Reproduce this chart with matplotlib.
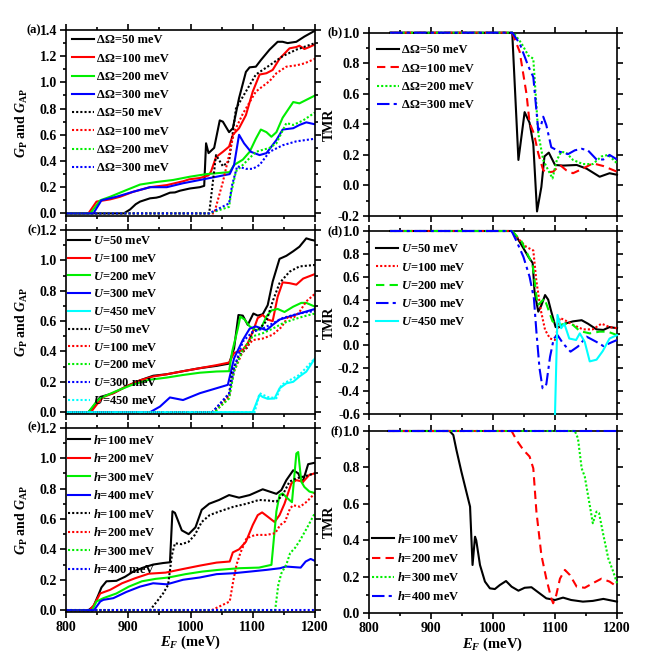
import matplotlib
matplotlib.use("Agg")
import matplotlib.pyplot as plt
from matplotlib.ticker import MultipleLocator, FormatStrFormatter

plt.rcParams["font.family"] = ["Liberation Serif", "DejaVu Serif"]
plt.rcParams["font.weight"] = "bold"
plt.rcParams["mathtext.fontset"] = "custom"
plt.rcParams["mathtext.rm"] = "Liberation Serif:bold"
plt.rcParams["mathtext.it"] = "Liberation Serif:italic:bold"
plt.rcParams["mathtext.bf"] = "Liberation Serif:bold"

# ---------------- panel (a): G_P (solid) and G_AP (dotted) vs E_F, dOmega series
A_GP50_E = [800, 893, 903, 912, 919, 935, 945, 951, 967, 975, 983, 999, 1015, 1022, 1025, 1029, 1038,
            1047, 1052, 1062, 1068, 1078, 1089, 1095, 1105, 1113, 1127, 1140, 1148, 1156, 1170, 1183, 1200]
A_GP50 = [0, 0, 0.03, 0.07, 0.09, 0.115, 0.12, 0.127, 0.158, 0.16, 0.173, 0.19, 0.20, 0.21, 0.535, 0.46, 0.50,
          0.71, 0.70, 0.62, 0.65, 0.88, 1.08, 1.115, 1.12, 1.17, 1.25, 1.31, 1.31, 1.30, 1.31, 1.35, 1.395]
A_GP100_E = [800, 836, 849, 871, 887, 908, 935, 962, 988, 998, 1015, 1029, 1033, 1041, 1052, 1062, 1068,
             1078, 1089, 1100, 1111, 1122, 1132, 1143, 1159, 1170, 1175, 1183, 1191, 1200]
A_GP100 = [0, 0, 0.09, 0.107, 0.127, 0.165, 0.20, 0.216, 0.245, 0.26, 0.27, 0.29, 0.32, 0.43, 0.47, 0.51, 0.60,
           0.65, 0.75, 0.93, 1.06, 1.07, 1.095, 1.18, 1.26, 1.27, 1.28, 1.255, 1.27, 1.29]
A_GP200_E = [800, 839, 855, 871, 897, 919, 946, 972, 999, 1026, 1063, 1070, 1084, 1095, 1105, 1113, 1122,
             1130, 1138, 1148, 1165, 1175, 1200]
A_GP200 = [0, 0, 0.10, 0.127, 0.178, 0.22, 0.24, 0.255, 0.28, 0.30, 0.315, 0.37, 0.41, 0.47, 0.57, 0.64, 0.62,
           0.585, 0.62, 0.73, 0.85, 0.84, 0.90]
A_GP300_E = [800, 844, 857, 881, 908, 935, 962, 988, 1015, 1042, 1063, 1070, 1078, 1086, 1097, 1111, 1122,
             1138, 1148, 1165, 1175, 1186, 1200]
A_GP300 = [0, 0, 0.10, 0.127, 0.165, 0.20, 0.20, 0.23, 0.255, 0.28, 0.30, 0.37, 0.60, 0.535, 0.47, 0.445, 0.46,
           0.56, 0.64, 0.65, 0.675, 0.695, 0.68]
A_GAP50_E = [800, 1030, 1041, 1052, 1062, 1073, 1084, 1105, 1127, 1148, 1170, 1200]
A_GAP50 = [0, 0, 0.445, 0.36, 0.40, 0.80, 0.89, 1.06, 1.13, 1.20, 1.25, 1.30]
A_GAP100_E = [800, 1038, 1052, 1062, 1070, 1084, 1105, 1127, 1138, 1154, 1170, 1183, 1200]
A_GAP100 = [0, 0, 0.24, 0.445, 0.62, 0.76, 0.93, 1.01, 1.07, 1.12, 1.13, 1.145, 1.18]
A_GAP200_E = [800, 1030, 1062, 1065, 1073, 1084, 1105, 1127, 1138, 1154, 1165, 1181, 1200]
A_GAP200 = [0, 0, 0.05, 0.15, 0.32, 0.37, 0.47, 0.50, 0.535, 0.69, 0.675, 0.71, 0.77]
A_GAP300_E = [800, 1030, 1062, 1067, 1075, 1089, 1100, 1111, 1127, 1148, 1170, 1200]
A_GAP300 = [0, 0, 0.076, 0.22, 0.36, 0.34, 0.34, 0.37, 0.47, 0.52, 0.55, 0.57]

# ---------------- panel (b): TMR, dOmega series
B_50_E = [834, 1031, 1041, 1051, 1059, 1065, 1071, 1078, 1083, 1090, 1100, 1113, 1135, 1151, 1172, 1188, 1200]
B_50 = [1, 1, 0.167, 0.48, 0.41, 0.27, -0.17, -0.01, 0.19, 0.215, 0.134, 0.13, 0.134, 0.11, 0.057, 0.08, 0.07]
B_100_E = [834, 1031, 1043, 1054, 1059, 1066, 1073, 1081, 1086, 1097, 1108, 1118, 1129, 1145, 1161, 1178, 1200]
B_100 = [1, 1, 0.876, 0.60, 0.41, 0.34, 0.21, 0.10, 0.085, 0.09, 0.134, 0.10, 0.08, 0.11, 0.145, 0.127, 0.09]
B_200_E = [834, 1033, 1046, 1057, 1065, 1073, 1081, 1089, 1096, 1103, 1110, 1118, 1129, 1145, 1161, 1175,
           1186, 1200]
B_200 = [1, 1, 0.93, 0.85, 0.83, 0.34, 0.167, 0.10, 0.046, 0.167, 0.22, 0.215, 0.167, 0.14, 0.14, 0.19, 0.20,
         0.145]
B_300_E = [834, 1031, 1043, 1057, 1065, 1073, 1077, 1081, 1086, 1094, 1108, 1121, 1132, 1143, 1153, 1167,
           1178, 1188, 1200]
B_300 = [1, 1, 0.93, 0.78, 0.71, 0.36, 0.385, 0.45, 0.395, 0.25, 0.22, 0.205, 0.23, 0.24, 0.23, 0.17, 0.17,
         0.20, 0.17]

# ---------------- panel (c): G_P / G_AP, U series
C_GP50_E = [800, 836, 844, 855, 876, 897, 919, 940, 962, 988, 1015, 1042, 1062, 1070, 1077, 1084, 1092, 1101,
            1108, 1116, 1124, 1132, 1143, 1154, 1165, 1175, 1186, 1194, 1200]
C_GP50 = [0, 0, 0.037, 0.10, 0.125, 0.17, 0.21, 0.24, 0.25, 0.27, 0.29, 0.305, 0.32, 0.42, 0.64, 0.636, 0.575,
          0.65, 0.636, 0.645, 0.705, 0.86, 1.01, 1.03, 1.06, 1.09, 1.145, 1.135, 1.13]
C_GP100_E = [800, 840, 849, 860, 876, 897, 919, 940, 962, 988, 1015, 1042, 1062, 1070, 1084, 1092, 1100, 1108,
             1116, 1124, 1132, 1140, 1148, 1159, 1170, 1181, 1200]
C_GP100 = [0, 0, 0.048, 0.10, 0.125, 0.17, 0.21, 0.235, 0.25, 0.27, 0.29, 0.31, 0.327, 0.39, 0.41, 0.455, 0.53,
           0.62, 0.64, 0.61, 0.60, 0.76, 0.855, 0.85, 0.84, 0.88, 0.91]
C_GP200_E = [800, 836, 849, 855, 879, 906, 933, 962, 988, 1015, 1042, 1062, 1067, 1076, 1080, 1087, 1095, 1105,
             1113, 1122, 1130, 1140, 1151, 1165, 1178, 1186, 1200]
C_GP200 = [0, 0, 0.07, 0.092, 0.136, 0.18, 0.213, 0.228, 0.245, 0.26, 0.268, 0.27, 0.40, 0.55, 0.63, 0.61,
           0.565, 0.54, 0.55, 0.63, 0.67, 0.68, 0.66, 0.695, 0.72, 0.72, 0.695]
C_GP300_E = [800, 935, 951, 967, 988, 1015, 1042, 1060, 1070, 1084, 1095, 1105, 1122, 1132, 1143, 1159, 1175,
             1200]
C_GP300 = [0, 0, 0.037, 0.097, 0.08, 0.125, 0.158, 0.18, 0.355, 0.475, 0.55, 0.565, 0.54, 0.575, 0.61, 0.63,
           0.65, 0.68]
C_GP450_E = [800, 1100, 1111, 1116, 1124, 1135, 1143, 1154, 1165, 1175, 1186, 1200]
C_GP450 = [0, 0, 0.114, 0.10, 0.088, 0.09, 0.157, 0.19, 0.20, 0.235, 0.267, 0.355]
C_GAP50_E = [800, 1035, 1052, 1062, 1067, 1078, 1092, 1100, 1111, 1122, 1132, 1143, 1159, 1175, 1200]
C_GAP50 = [0, 0, 0.07, 0.114, 0.27, 0.37, 0.43, 0.53, 0.55, 0.60, 0.73, 0.85, 0.925, 0.96, 0.97]
C_GAP100_E = [800, 1038, 1062, 1070, 1084, 1100, 1116, 1132, 1146, 1157, 1165, 1175, 1186, 1200]
C_GAP100 = [0, 0, 0.10, 0.27, 0.40, 0.475, 0.485, 0.51, 0.56, 0.63, 0.62, 0.66, 0.73, 0.78]
C_GAP200_E = [800, 1038, 1062, 1070, 1084, 1100, 1116, 1132, 1148, 1165, 1181, 1200]
C_GAP200 = [0, 0, 0.09, 0.27, 0.41, 0.50, 0.52, 0.55, 0.585, 0.61, 0.63, 0.65]
C_GAP300_E = [800, 1035, 1062, 1070, 1084, 1100, 1116, 1132, 1148, 1165, 1181, 1200]
C_GAP300 = [0, 0, 0.125, 0.29, 0.465, 0.53, 0.55, 0.585, 0.62, 0.64, 0.655, 0.667]
C_GAP450_E = [800, 1103, 1111, 1124, 1138, 1146, 1159, 1175, 1200]
C_GAP450 = [0, 0, 0.125, 0.10, 0.092, 0.18, 0.21, 0.246, 0.355]

# ---------------- panel (d): TMR, U series
D_50_E = [834, 1030, 1038, 1049, 1057, 1064, 1067, 1073, 1078, 1084, 1089, 1094, 1101, 1108, 1116, 1129, 1143,
          1153, 1167, 1178, 1188, 1200]
D_50 = [1, 1, 0.95, 0.85, 0.775, 0.72, 0.47, 0.295, 0.35, 0.44, 0.40, 0.295, 0.16, 0.16, 0.19, 0.21, 0.22,
        0.19, 0.14, 0.135, 0.16, 0.15]
D_100_E = [834, 1031, 1043, 1054, 1065, 1070, 1077, 1084, 1092, 1100, 1108, 1116, 1129, 1145, 1161, 1175,
           1188, 1200]
D_100 = [1, 1, 0.92, 0.86, 0.83, 0.56, 0.31, 0.135, 0.06, 0.047, 0.24, 0.22, 0.18, 0.14, 0.14, 0.19, 0.16, 0.15]
D_200_E = [834, 1031, 1046, 1059, 1064, 1072, 1083, 1096, 1107, 1118, 1129, 1140, 1156, 1172, 1185, 1200]
D_200 = [1, 1, 0.91, 0.76, 0.70, 0.35, 0.41, 0.21, 0.178, 0.19, 0.178, 0.125, 0.105, 0.12, 0.12, 0.09]
D_300_E = [834, 1030, 1038, 1049, 1059, 1066, 1070, 1075, 1080, 1086, 1092, 1098, 1104, 1113, 1125, 1137,
           1151, 1167, 1178, 1191, 1200]
D_300 = [1, 1, 0.91, 0.775, 0.60, 0.41, 0.12, -0.20, -0.375, -0.34, -0.10, 0.06, 0.09, 0.017, -0.055, -0.01,
         0.076, 0.03, -0.006, 0.026, 0.047]
D_450_E = [1100, 1104, 1110, 1115, 1123, 1134, 1140, 1148, 1156, 1167, 1177, 1188, 1200]
D_450 = [-0.6, 0.266, 0.15, 0.19, 0.06, 0.047, 0.105, 0.03, -0.14, -0.125, -0.05, 0.06, 0.09]

# ---------------- panel (e): G_P / G_AP, h series
E_GP100_E = [800, 836, 844, 852, 857, 865, 881, 895, 908, 924, 940, 956, 967, 971, 975, 986, 997, 1008, 1018,
             1030, 1046, 1062, 1078, 1095, 1116, 1127, 1138, 1146, 1154, 1165, 1173, 1180, 1189, 1200]
E_GP100 = [0, 0, 0.024, 0.10, 0.15, 0.19, 0.193, 0.22, 0.254, 0.28, 0.30, 0.31, 0.315, 0.65, 0.64, 0.525, 0.50,
           0.545, 0.66, 0.70, 0.725, 0.757, 0.74, 0.757, 0.795, 0.78, 0.765, 0.79, 0.855, 0.92, 0.90, 0.84,
           0.96, 0.97]
E_GP200_E = [800, 838, 845, 855, 871, 890, 911, 933, 960, 987, 1015, 1042, 1063, 1068, 1078, 1089, 1100, 1108,
             1115, 1124, 1135, 1143, 1151, 1162, 1170, 1181, 1191, 1200]
E_GP200 = [0, 0, 0.035, 0.11, 0.134, 0.177, 0.21, 0.24, 0.247, 0.27, 0.293, 0.313, 0.32, 0.38, 0.40, 0.45,
           0.56, 0.625, 0.643, 0.615, 0.58, 0.625, 0.70, 0.834, 0.855, 0.845, 0.89, 0.90]
E_GP300_E = [800, 842, 849, 860, 881, 901, 922, 944, 965, 992, 1019, 1045, 1078, 1110, 1130, 1132, 1138, 1143,
             1148, 1156, 1163, 1166, 1170, 1173, 1178, 1183, 1191, 1200]
E_GP300 = [0, 0, 0.057, 0.079, 0.11, 0.155, 0.19, 0.206, 0.215, 0.237, 0.254, 0.265, 0.276, 0.28, 0.298,
           0.385, 0.65, 0.757, 0.768, 0.735, 0.71, 0.845, 1.03, 1.04, 0.845, 0.81, 0.78, 0.77]
E_GP400_E = [800, 845, 855, 860, 876, 897, 919, 940, 962, 988, 1015, 1042, 1069, 1096, 1122, 1144, 1153, 1177,
             1185, 1193, 1200]
E_GP400 = [0, 0, 0.057, 0.068, 0.079, 0.12, 0.155, 0.177, 0.17, 0.20, 0.215, 0.237, 0.243, 0.254, 0.265,
           0.276, 0.287, 0.28, 0.32, 0.337, 0.324]
E_GAP100_E = [800, 935, 946, 956, 964, 970, 975, 986, 997, 1007, 1018, 1031, 1047, 1069, 1090, 1110, 1128,
              1138, 1148, 1159, 1170, 1181, 1191, 1200]
E_GAP100 = [0, 0, 0.057, 0.11, 0.166, 0.36, 0.44, 0.434, 0.45, 0.495, 0.58, 0.626, 0.65, 0.68, 0.70, 0.725,
            0.72, 0.714, 0.757, 0.845, 0.867, 0.878, 0.89, 0.90]
E_GAP200_E = [800, 1034, 1063, 1069, 1074, 1080, 1090, 1104, 1122, 1136, 1144, 1152, 1160, 1165, 1176, 1187,
              1200]
E_GAP200 = [0, 0, 0.057, 0.20, 0.30, 0.375, 0.473, 0.495, 0.495, 0.506, 0.56, 0.583, 0.67, 0.69, 0.68, 0.714,
            0.77]
E_GAP300_E = [800, 1136, 1141, 1146, 1154, 1160, 1168, 1176, 1187, 1200]
E_GAP300 = [0, 0, 0.166, 0.243, 0.30, 0.375, 0.41, 0.46, 0.54, 0.64]
E_GAP400_E = [800, 1200]
E_GAP400 = [0, 0]

# ---------------- panel (f): TMR, h series
F_100_E = [831, 930, 936, 941, 949, 957, 963, 967, 971, 973, 979, 987, 995, 1003, 1011, 1021, 1030, 1041, 1051,
           1062, 1073, 1086, 1100, 1113, 1126, 1145, 1161, 1178, 1200]
F_100 = [1, 1, 0.978, 0.896, 0.777, 0.667, 0.585, 0.265, 0.42, 0.40, 0.265, 0.174, 0.137, 0.133, 0.155, 0.177,
         0.146, 0.124, 0.14, 0.143, 0.115, 0.082, 0.073, 0.086, 0.073, 0.064, 0.068, 0.079, 0.064]
F_200_E = [831, 1030, 1038, 1049, 1059, 1065, 1070, 1078, 1086, 1094, 1097, 1102, 1108, 1116, 1124, 1135, 1148,
           1161, 1175, 1188, 1200]
F_200 = [1, 1, 0.95, 0.896, 0.86, 0.795, 0.558, 0.32, 0.19, 0.082, 0.055, 0.10, 0.19, 0.238, 0.21, 0.146, 0.14,
         0.165, 0.19, 0.174, 0.146]
F_300_E = [831, 1132, 1137, 1143, 1148, 1156, 1161, 1167, 1171, 1178, 1186, 1194, 1200]
F_300 = [1, 1, 0.96, 0.795, 0.75, 0.594, 0.494, 0.558, 0.55, 0.43, 0.30, 0.228, 0.165]
F_400_E = [831, 1200]
F_400 = [1, 1]

BLACK, RED, GREEN, BLUE, CYAN = "#000000", "#ff0000", "#00ee00", "#0000ff", "#00ffff"
DOT = (0, (1, 1))
DASH = (0, (4, 2.5))
DASHDOT = (0, (6, 2, 1.5, 2))
LW = 1.5
FS = 9
TICK_FS = 10

W, H = 669, 657
fig = plt.figure(figsize=(W / 100, H / 100), dpi=100)


def add_ax(left, right, top, bottom):
    return fig.add_axes([left / W, 1 - bottom / H, (right - left) / W, (bottom - top) / H])


def style(ax, ylim, xlabels=False, ylabel=None, ylab_x=-0.145):
    ax.set_xlim(800, 1200)
    ax.set_ylim(*ylim)
    ax.xaxis.set_major_locator(MultipleLocator(100))
    ax.xaxis.set_minor_locator(MultipleLocator(50))
    ax.yaxis.set_major_locator(MultipleLocator(0.2))
    ax.yaxis.set_minor_locator(MultipleLocator(0.1))
    ax.tick_params(which="both", direction="out", top=True, right=True, width=1.2,
                   labelsize=TICK_FS, pad=2)
    ax.tick_params(which="major", length=4.5)
    ax.tick_params(which="minor", length=2.5)
    ax.tick_params(axis="x", labelbottom=xlabels)
    ax.yaxis.set_major_formatter(FormatStrFormatter("%.1f"))
    for s in ax.spines.values():
        s.set_linewidth(1.2)
    if ylabel:
        ax.set_ylabel(ylabel, fontsize=FS + 1, fontweight="bold")
        ax.yaxis.set_label_coords(ylab_x, 0.5)
    if xlabels:
        ax.set_xlabel(r"$E_F$ (meV)", fontsize=FS + 1.5, fontweight="bold")
        ax.xaxis.set_label_coords(0.5, -0.122)


def legend(ax, loc, anchor, spacing=0.5):
    ax.legend(loc=loc, bbox_to_anchor=anchor, frameon=False, fontsize=FS, handlelength=1.75,
              handletextpad=0.25, labelspacing=spacing, borderpad=0, borderaxespad=0)


def tmr(ax, e, v, color, ls, label):
    # flat TMR = 1 segments sit on the top frame, so let them draw over it
    ax.plot(e, v, color=color, lw=LW, ls=ls, label=label, clip_on=False, zorder=3)


GLAB = r"$G_{\rm P}$ and $G_{\rm AP}$"

# (a)
ax = add_ax(66, 315, 30, 216)
for e, v, c, lab in [(A_GP50_E, A_GP50, BLACK, "ΔΩ=50 meV"), (A_GP100_E, A_GP100, RED, "ΔΩ=100 meV"),
                     (A_GP200_E, A_GP200, GREEN, "ΔΩ=200 meV"), (A_GP300_E, A_GP300, BLUE, "ΔΩ=300 meV")]:
    ax.plot(e, v, color=c, lw=LW, label=lab)
for e, v, c, lab in [(A_GAP50_E, A_GAP50, BLACK, "ΔΩ=50 meV"), (A_GAP100_E, A_GAP100, RED, "ΔΩ=100 meV"),
                     (A_GAP200_E, A_GAP200, GREEN, "ΔΩ=200 meV"), (A_GAP300_E, A_GAP300, BLUE, "ΔΩ=300 meV")]:
    ax.plot(e, v, color=c, lw=LW, ls=DOT, label=lab)
style(ax, (-0.02, 1.4), ylabel=GLAB)
legend(ax, "upper left", (0.024, 0.976))

# (b)
ax = add_ax(369, 617, 32.7, 216)
tmr(ax, B_50_E, B_50, BLACK, "-", "ΔΩ=50 meV")
tmr(ax, B_100_E, B_100, RED, DASH, "ΔΩ=100 meV")
tmr(ax, B_200_E, B_200, GREEN, DOT, "ΔΩ=200 meV")
tmr(ax, B_300_E, B_300, BLUE, DASHDOT, "ΔΩ=300 meV")
style(ax, (-0.2, 1.0), ylabel="TMR", ylab_x=-0.133)
legend(ax, "upper left", (0.032, 0.936))

# (c)
ax = add_ax(66, 315, 230, 413.7)
for e, v, c, lab in [(C_GP50_E, C_GP50, BLACK, r"$U$=50 meV"), (C_GP100_E, C_GP100, RED, r"$U$=100 meV"),
                     (C_GP200_E, C_GP200, GREEN, r"$U$=200 meV"), (C_GP300_E, C_GP300, BLUE, r"$U$=300 meV"),
                     (C_GP450_E, C_GP450, CYAN, r"$U$=450 meV")]:
    ax.plot(e, v, color=c, lw=LW, label=lab)
for e, v, c, lab in [(C_GAP50_E, C_GAP50, BLACK, r"$U$=50 meV"), (C_GAP100_E, C_GAP100, RED, r"$U$=100 meV"),
                     (C_GAP200_E, C_GAP200, GREEN, r"$U$=200 meV"),
                     (C_GAP300_E, C_GAP300, BLUE, r"$U$=300 meV"),
                     (C_GAP450_E, C_GAP450, CYAN, r"$U$=450 meV")]:
    ax.plot(e, v, color=c, lw=LW, ls=DOT, label=lab)
style(ax, (-0.01, 1.2), ylabel=GLAB)
legend(ax, "upper left", (0.009, 0.972), spacing=0.46)

# (d)
ax = add_ax(369, 617, 231, 414)
tmr(ax, D_50_E, D_50, BLACK, "-", r"$U$=50 meV")
tmr(ax, D_100_E, D_100, RED, DOT, r"$U$=100 meV")
tmr(ax, D_200_E, D_200, GREEN, DASH, r"$U$=200 meV")
tmr(ax, D_300_E, D_300, BLUE, DASHDOT, r"$U$=300 meV")
tmr(ax, D_450_E, D_450, CYAN, "-", r"$U$=450 meV")
style(ax, (-0.6, 1.0), ylabel="TMR", ylab_x=-0.133)
legend(ax, "upper left", (0.028, 0.932))

# (e)
ax = add_ax(66, 315, 427.7, 611.7)
for e, v, c, lab in [(E_GP100_E, E_GP100, BLACK, r"$h$=100 meV"), (E_GP200_E, E_GP200, RED, r"$h$=200 meV"),
                     (E_GP300_E, E_GP300, GREEN, r"$h$=300 meV"), (E_GP400_E, E_GP400, BLUE, r"$h$=400 meV")]:
    ax.plot(e, v, color=c, lw=LW, label=lab)
for e, v, c, lab in [(E_GAP100_E, E_GAP100, BLACK, r"$h$=100 meV"),
                     (E_GAP200_E, E_GAP200, RED, r"$h$=200 meV"),
                     (E_GAP300_E, E_GAP300, GREEN, r"$h$=300 meV"),
                     (E_GAP400_E, E_GAP400, BLUE, r"$h$=400 meV")]:
    ax.plot(e, v, color=c, lw=LW, ls=DOT, label=lab)
style(ax, (-0.01, 1.2), xlabels=True, ylabel=GLAB)
legend(ax, "upper left", (0.009, 0.968), spacing=0.44)

# (f)
ax = add_ax(369, 617, 431, 613.3)
tmr(ax, F_100_E, F_100, BLACK, "-", r"$h$=100 meV")
tmr(ax, F_200_E, F_200, RED, DASH, r"$h$=200 meV")
tmr(ax, F_300_E, F_300, GREEN, DOT, r"$h$=300 meV")
tmr(ax, F_400_E, F_400, BLUE, DASHDOT, r"$h$=400 meV")
style(ax, (0.0, 1.0), xlabels=True, ylabel="TMR", ylab_x=-0.133)
legend(ax, "lower left", (0.012, 0.054))

# panel letters
for txt, x, y in [("(a)", 41, 30), ("(b)", 343, 32.7), ("(c)", 41, 230), ("(d)", 343, 231),
                  ("(e)", 41, 427.7), ("(f)", 343, 431)]:
    fig.text(x / W, 1 - y / H, txt, ha="right", va="center", fontsize=FS, fontweight="bold")

fig.savefig("out.png", dpi=100, facecolor="white")
